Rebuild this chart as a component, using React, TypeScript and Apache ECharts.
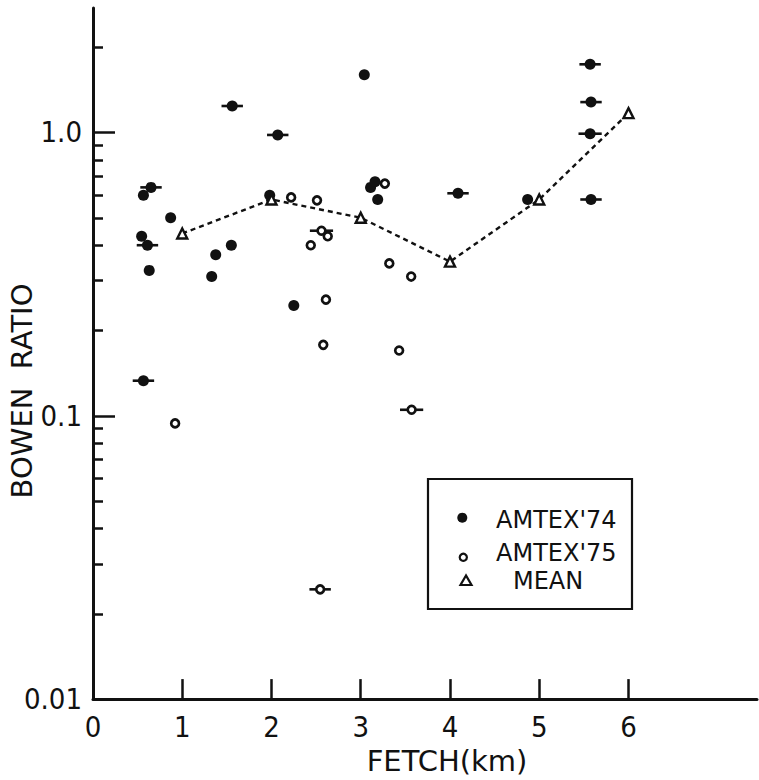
import React, { useEffect, useRef } from "react";
import * as echarts from "echarts";

// [fetch (km), Bowen ratio, half-width of horizontal bar in km (0 = none)]
const amtex74: number[][] = [
  [0.545, 0.43, 0],
  [0.565, 0.6, 0],
  [0.65, 0.64, 0.12],
  [0.61, 0.4, 0.12],
  [0.63, 0.326, 0],
  [0.565, 0.133, 0.12],
  [0.87, 0.5, 0],
  [1.33, 0.31, 0],
  [1.375, 0.37, 0],
  [1.55, 0.4, 0],
  [1.56, 1.24, 0.12],
  [1.98, 0.6, 0],
  [2.07, 0.98, 0.12],
  [2.25, 0.245, 0],
  [3.04, 1.6, 0],
  [3.11, 0.64, 0],
  [3.16, 0.67, 0],
  [3.19, 0.58, 0],
  [4.09, 0.61, 0.12],
  [4.87, 0.58, 0],
  [5.57, 1.74, 0.12],
  [5.58, 1.28, 0.12],
  [5.57, 0.99, 0.13],
  [5.58, 0.58, 0.12],
];

const amtex75: number[][] = [
  [0.92, 0.094, 0],
  [2.22, 0.59, 0],
  [2.51, 0.576, 0],
  [2.56, 0.45, 0.13],
  [2.63, 0.43, 0],
  [2.44, 0.4, 0],
  [2.61, 0.257, 0],
  [2.58, 0.178, 0],
  [3.27, 0.66, 0],
  [3.32, 0.345, 0],
  [3.565, 0.31, 0],
  [3.43, 0.17, 0],
  [3.57, 0.105, 0.13],
  [2.545, 0.0244, 0.12],
];

const meanFetch = [1, 2, 3, 4, 5, 6];
const meanRatio = [0.44, 0.58, 0.5, 0.35, 0.58, 1.17];

const xTickLabels = [0, 1, 2, 3, 4, 5, 6];
const xTicks = [1, 2, 3, 4, 5, 6];
const yMajorTicks = [0.01, 0.1, 1];
const yTickLabels = ["0.01", "0.1", "1.0"];
const yMinorTicks = [
  0.02, 0.03, 0.04, 0.05, 0.06, 0.07, 0.08, 0.09,
  0.2, 0.3, 0.4, 0.5, 0.6, 0.7, 0.8, 0.9, 2,
];

const INK = "#111";
const NUM_FONT = "'Liberation Sans Narrow', 'DejaVu Sans Condensed', 'Liberation Sans', sans-serif";
const TXT_FONT = "'DejaVu Sans', 'Liberation Sans', sans-serif";

export default function App() {
  const ref = useRef<HTMLDivElement>(null);

  useEffect(() => {
    if (!ref.current) return;
    const chart = echarts.init(ref.current, null, { renderer: "svg" });

    const barData = [...amtex74, ...amtex75].filter((d) => d[2] > 0);

    const option: any = {
      animation: false,
      backgroundColor: "#fff",
      grid: { left: 93, right: 2, top: 8, bottom: 79, containLabel: false },
      xAxis: {
        type: "value",
        min: 0,
        max: 7.44,
        name: "FETCH(km)",
        nameLocation: "middle",
        nameGap: 45,
        nameTextStyle: {
          color: INK,
          fontFamily: TXT_FONT,
          fontSize: 29,
          padding: [0, 0, 0, 44],
        },
        axisLine: { show: true, lineStyle: { color: INK, width: 3 } },
        axisTick: {
          show: true,
          inside: true,
          length: 20,
          customValues: xTicks,
          lineStyle: { color: INK, width: 2.5 },
        },
        axisLabel: {
          show: true,
          customValues: xTickLabels,
          color: INK,
          fontFamily: NUM_FONT,
          fontSize: 29,
          margin: 13,
          formatter: (v: number) => String(Math.round(v)),
        },
        splitLine: { show: false },
      },
      yAxis: [
        {
          type: "log",
          logBase: 10,
          min: 0.01,
          max: 2.75,
          position: "left",
          axisLine: { show: true, lineStyle: { color: INK, width: 3 } },
          axisTick: {
            show: true,
            inside: true,
            length: 22,
            customValues: yMajorTicks,
            lineStyle: { color: INK, width: 2.5 },
          },
          axisLabel: {
            show: true,
            customValues: yMajorTicks,
            color: INK,
            fontFamily: NUM_FONT,
            fontSize: 29,
            margin: 11,
            padding: [6, 0, 0, 0],
            formatter: (v: number) => {
              let best = 0;
              yMajorTicks.forEach((t, i) => {
                if (Math.abs(Math.log10(t) - Math.log10(v)) < Math.abs(Math.log10(yMajorTicks[best]) - Math.log10(v))) best = i;
              });
              return yTickLabels[best];
            },
          },
          splitLine: { show: false },
        },
        {
          type: "log",
          logBase: 10,
          min: 0.01,
          max: 2.75,
          position: "left",
          axisLine: { show: false },
          axisTick: {
            show: true,
            inside: true,
            length: 10,
            customValues: yMinorTicks,
            lineStyle: { color: INK, width: 2.5 },
          },
          axisLabel: { show: false },
          splitLine: { show: false },
        },
      ],
      series: [
        {
          name: "bars",
          type: "custom",
          xAxisIndex: 0,
          yAxisIndex: 0,
          z: 1,
          encode: { x: 0, y: 1 },
          data: barData,
          renderItem: (params: any, api: any) => {
            const x = api.value(0);
            const y = api.value(1);
            const h = api.value(2);
            const p1 = api.coord([x - h, y]);
            const p2 = api.coord([x + h, y]);
            return {
              type: "line",
              shape: { x1: p1[0], y1: p1[1], x2: p2[0], y2: p2[1] },
              style: { stroke: INK, lineWidth: 2.6 },
            };
          },
          silent: true,
        },
        {
          name: "AMTEX'74",
          type: "scatter",
          z: 2,
          symbol: "circle",
          symbolSize: 11,
          itemStyle: { color: INK, opacity: 1 },
          data: amtex74.map((d) => [d[0], d[1]]),
        },
        {
          name: "AMTEX'75",
          type: "scatter",
          z: 3,
          symbol: "circle",
          symbolSize: 7.8,
          itemStyle: { color: "#fff", borderColor: INK, borderWidth: 2.7, opacity: 1 },
          data: amtex75.map((d) => [d[0], d[1]]),
        },
        {
          name: "MEAN",
          type: "line",
          z: 4,
          symbol: "triangle",
          symbolSize: 10,
          showSymbol: true,
          lineStyle: { color: INK, width: 2.4, type: [5, 4] },
          itemStyle: { color: "#fff", borderColor: INK, borderWidth: 2.4 },
          data: meanFetch.map((f, i) => [f, meanRatio[i]]),
        },
      ],
      graphic: [
        {
          type: "text",
          x: 22,
          y: 391,
          rotation: Math.PI / 2,
          style: {
            text: "BOWEN  RATIO",
            fill: INK,
            font: `29px ${TXT_FONT}`,
            align: "center",
            verticalAlign: "middle",
          },
        },
        {
          type: "group",
          z: 100,
          children: [
            {
              type: "rect",
              shape: { x: 428, y: 479, width: 204, height: 130 },
              style: { fill: "#fff", stroke: INK, lineWidth: 2.2 },
            },
            {
              type: "circle",
              shape: { cx: 462.3, cy: 517.7, r: 5 },
              style: { fill: INK },
            },
            {
              type: "circle",
              shape: { cx: 463.3, cy: 557.3, r: 3.6 },
              style: { fill: "#fff", stroke: INK, lineWidth: 2.2 },
            },
            {
              type: "polygon",
              shape: { points: [[466, 575.5], [460.5, 585], [471.5, 585]] },
              style: { fill: "#fff", stroke: INK, lineWidth: 2.2 },
            },
            {
              type: "text",
              x: 496,
              y: 520,
              style: { text: "AMTEX'74", fill: INK, font: `24px ${TXT_FONT}`, verticalAlign: "middle" },
            },
            {
              type: "text",
              x: 496,
              y: 553,
              style: { text: "AMTEX'75", fill: INK, font: `24px ${TXT_FONT}`, verticalAlign: "middle" },
            },
            {
              type: "text",
              x: 513,
              y: 580.5,
              style: { text: "MEAN", fill: INK, font: `24px ${TXT_FONT}`, verticalAlign: "middle" },
            },
          ],
        },
      ],
    };

    chart.setOption(option);
    return () => chart.dispose();
  }, []);

  return (
    <div
      ref={ref}
      style={{ position: "fixed", left: 0, top: 0, width: 759, height: 780, background: "#fff" }}
    />
  );
}
